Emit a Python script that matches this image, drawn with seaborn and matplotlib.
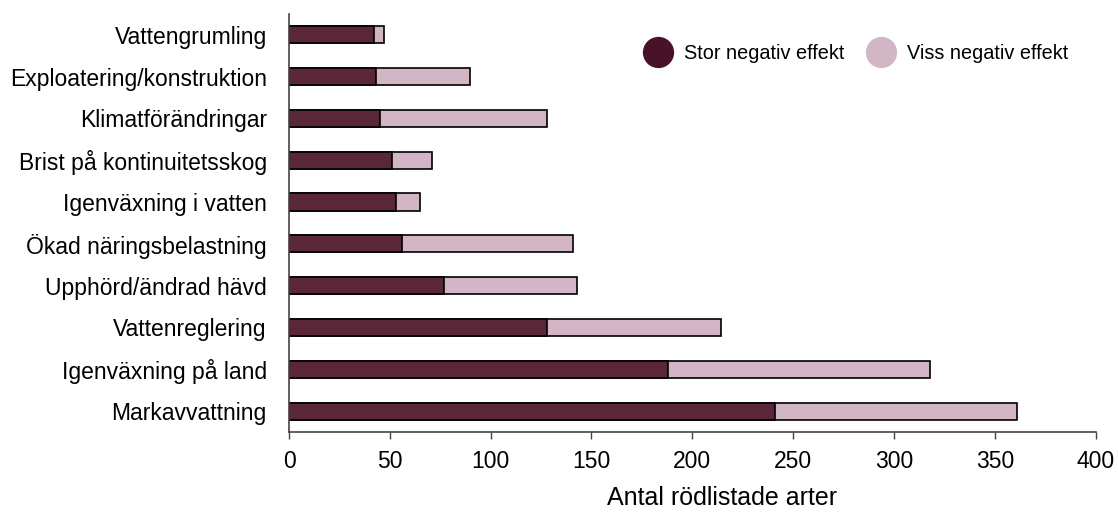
import matplotlib
matplotlib.use("Agg")
import matplotlib.pyplot as plt
from matplotlib.lines import Line2D
import numpy as np
import pandas as pd
import seaborn as sns

# Threat factors and number of red-listed species affected
categories = [
    "Vattengrumling",
    "Exploatering/konstruktion",
    "Klimatförändringar",
    "Brist på kontinuitetsskog",
    "Igenväxning i vatten",
    "Ökad näringsbelastning",
    "Upphörd/ändrad hävd",
    "Vattenreglering",
    "Igenväxning på land",
    "Markavvattning",
]
stor = [42, 43, 45, 51, 53, 56, 77, 128, 188, 241]
viss = [5, 47, 83, 20, 12, 85, 66, 86, 130, 120]
x_ticks = [0, 50, 100, 150, 200, 250, 300, 350, 400]

dark = "#5a2739"
light = "#d3b6c5"
legend_dark = "#4a1229"

sns.set_theme(style="white")
plt.rcParams["font.family"] = ["Liberation Sans", "DejaVu Sans"]
plt.rcParams["text.color"] = "black"
plt.rcParams["xtick.color"] = "black"
plt.rcParams["ytick.color"] = "black"
plt.rcParams["axes.labelcolor"] = "black"

df = pd.DataFrame({
    "kategori": categories,
    "stor": stor,
    "total": np.array(stor) + np.array(viss),
})

fig = plt.figure(figsize=(11.18, 5.14), dpi=100)
ax = fig.add_axes([0.2585, 0.1595, 0.7215, 0.8135])

sns.barplot(data=df, y="kategori", x="total", color=light, orient="h",
            width=0.41, edgecolor="black", linewidth=1.2, saturation=1, ax=ax)
sns.barplot(data=df, y="kategori", x="stor", color=dark, orient="h",
            width=0.41, edgecolor="black", linewidth=1.2, saturation=1, ax=ax)

ax.set_xlim(0, 400)
ax.set_ylim(9.5, -0.5)
ax.set_xticks(x_ticks)
ax.set_xticklabels([str(t) for t in x_ticks], fontsize=16.5)
ax.tick_params(axis="y", labelsize=16.5, length=0, pad=16)
ax.tick_params(axis="x", length=5, width=1, color="#444444", direction="out", bottom=True, pad=8)
ax.set_ylabel("")
ax.set_xlabel("Antal rödlistade arter", fontsize=18, labelpad=8)
ax.xaxis.set_label_coords(0.537, -0.128)
ax.xaxis.label.set_va("top")

for side in ("top", "right"):
    ax.spines[side].set_visible(False)
for side in ("left", "bottom"):
    ax.spines[side].set_color("#444444")
    ax.spines[side].set_linewidth(1.2)

handles = [
    Line2D([], [], marker="o", linestyle="", markersize=21.5, markerfacecolor=legend_dark,
           markeredgecolor=legend_dark, label="Stor negativ effekt"),
    Line2D([], [], marker="o", linestyle="", markersize=21.5, markerfacecolor=light,
           markeredgecolor=light, label="Viss negativ effekt"),
]
ax.legend(handles=handles, loc="upper right", bbox_to_anchor=(0.966, 0.928), ncol=2,
          frameon=False, fontsize=14.3, handlelength=1.5, handletextpad=0.55,
          columnspacing=1.1, borderpad=0, borderaxespad=0)

fig.savefig("out.png", dpi=100)
